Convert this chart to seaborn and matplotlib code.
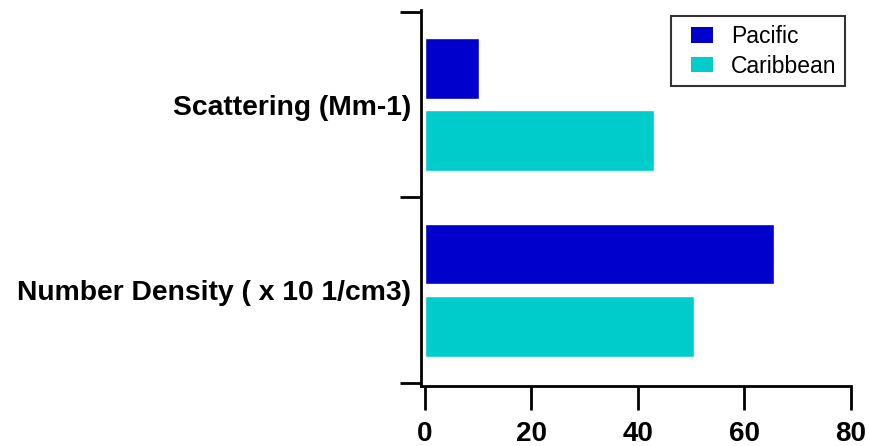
import matplotlib
matplotlib.use("Agg")
import matplotlib.pyplot as plt
from matplotlib.patches import Patch, Rectangle
from matplotlib.legend_handler import HandlerPatch
import seaborn as sns
import pandas as pd

categories = ["Scattering (Mm-1)", "Number Density ( x 10 1/cm3)"]
pacific = [10.1, 65.6]
caribbean = [43.0, 50.5]
series = ["Pacific", "Caribbean"]
colors = ["#0000CC", "#00CCCC"]
xticks = [0, 20, 40, 60, 80]

df = pd.DataFrame({
    "category": categories * 2,
    "value": pacific + caribbean,
    "region": [series[0]] * 2 + [series[1]] * 2,
})

sns.set_theme(style="white")
plt.rcParams["font.family"] = ["Liberation Sans", "DejaVu Sans"]
plt.rcParams["text.color"] = "black"
plt.rcParams["xtick.color"] = "black"
plt.rcParams["ytick.color"] = "black"

fig = plt.figure(figsize=(8.7, 4.46), dpi=100)
ax = fig.add_axes([421 / 870, 1 - 386 / 446, (851 - 421) / 870, (386 - 10) / 446])

sns.barplot(data=df, x="value", y="category", hue="region", order=categories,
            hue_order=series, palette=colors, orient="h",
            width=0.78, gap=0.16, ax=ax, saturation=1, errorbar=None, legend=False)

ax.set_xlim(-0.7, 80)
ax.set_ylim(1.516, -0.51)
ax.set_xticks(xticks)
ax.set_xticklabels([str(t) for t in xticks], fontsize=20, fontweight="bold", color="black")
ax.set_yticks(range(len(categories)))
ax.set_yticklabels(categories, fontsize=20.3, fontweight="bold", color="black")
ax.set_yticks([-0.5, 0.5, 1.5], minor=True)
ax.tick_params(axis="y", which="major", length=0, pad=7)
ax.tick_params(axis="y", which="minor", length=15, width=2, color="black", direction="out", left=True)
ax.tick_params(axis="x", which="major", length=17, width=2, color="black", direction="out", bottom=True, pad=8)
ax.set_xlabel("")
ax.set_ylabel("")
for s in ["top", "right"]:
    ax.spines[s].set_visible(False)
for s in ["left", "bottom"]:
    ax.spines[s].set_color("black")
    ax.spines[s].set_linewidth(2)


def right_rect(legend, orig_handle, xdescent, ydescent, width, height, fontsize):
    frac = 0.66
    return Rectangle((-xdescent + width * (1 - frac), -ydescent), width * frac, height)


handles = [Patch(facecolor=c, edgecolor="none") for c in colors]
leg = ax.legend(handles, series, loc="upper right", bbox_to_anchor=(845 / 870, 1 - 16.5 / 446),
                bbox_transform=fig.transFigure, borderaxespad=0, prop={"size": 16.5},
                frameon=True, fancybox=False, handlelength=1.46, handleheight=0.65,
                borderpad=0.37, labelspacing=0.3, handletextpad=0.8,
                handler_map={Patch: HandlerPatch(patch_func=right_rect)})
leg.get_frame().set_edgecolor("black")
leg.get_frame().set_linewidth(1.5)
for t in leg.get_texts():
    t.set_color("black")

fig.savefig("out.png", dpi=100, facecolor="white")
